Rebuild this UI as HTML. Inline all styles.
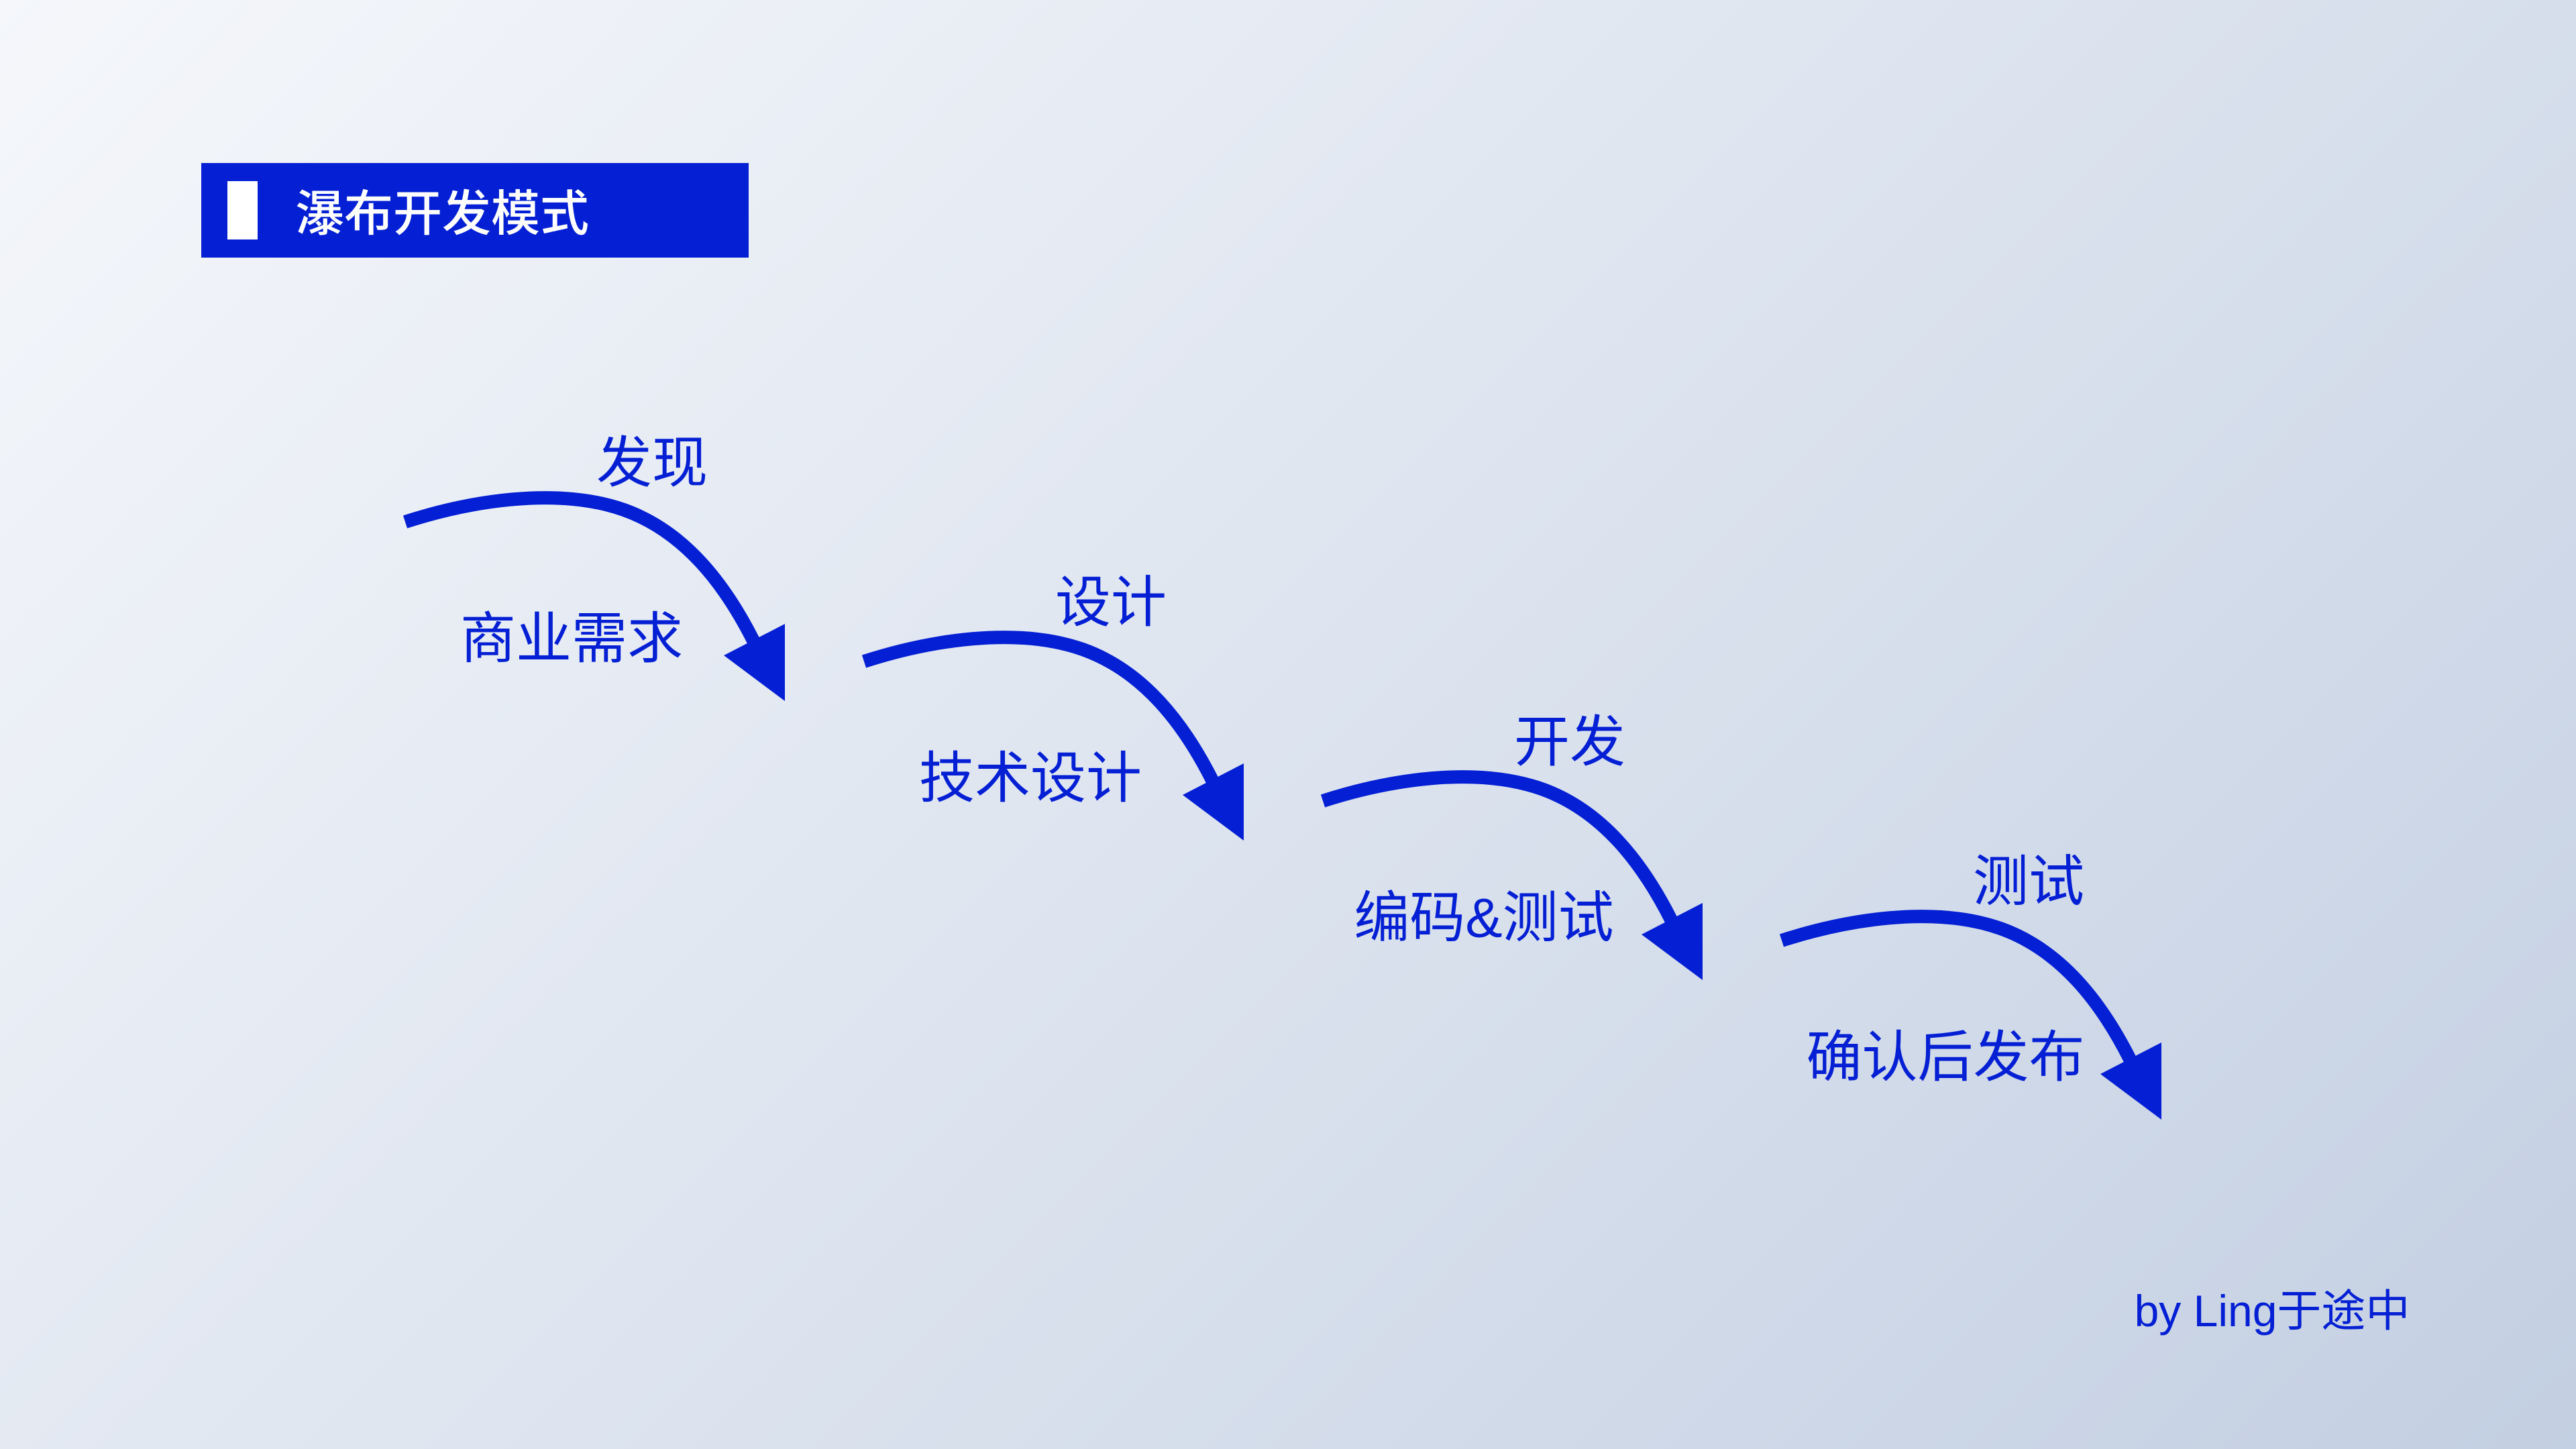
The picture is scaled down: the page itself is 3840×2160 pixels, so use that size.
<!DOCTYPE html>
<html><head><meta charset="utf-8"><style>
html,body{margin:0;padding:0;}
body{width:3840px;height:2160px;position:relative;overflow:hidden;background:linear-gradient(135deg,#f5f7fb 0%,#dde4ef 50%,#c3cfe2 100%);font-family:"Liberation Sans","Noto Sans CJK SC",sans-serif;}
.t{position:absolute;color:#0520d4;font-size:83px;line-height:1;white-space:nowrap;transform:translate(-50%,-50%);}
</style></head><body>
<div style="position:absolute;left:300px;top:243px;width:816px;height:141px;background:#0520d4"></div>
<div style="position:absolute;left:339px;top:270px;width:45px;height:87px;background:#fff"></div>
<div style="position:absolute;left:440px;top:313px;transform:translateY(-50%);color:#fff;font-size:73px;font-weight:500;line-height:1;font-family:'Noto Sans CJK SC',sans-serif;">瀑布开发模式</div>
<svg width="3840" height="2160" style="position:absolute;left:0;top:0">
<defs><g id="a">
<path d="M604 778 C700 747 830 725 930 760 C1020 792 1080 870 1123 955" fill="none" stroke="#0520d4" stroke-width="20"/>
<polygon points="1079,977 1170,930 1170,1045" fill="#0520d4"/>
</g></defs>
<use href="#a"/>
<use href="#a" transform="translate(684,208)"/>
<use href="#a" transform="translate(1368,416)"/>
<use href="#a" transform="translate(2052,624)"/>
</svg>
<div class="t" style="left:972px;top:690px">发现</div>
<div class="t" style="left:1656px;top:898px">设计</div>
<div class="t" style="left:2340px;top:1106px">开发</div>
<div class="t" style="left:3024px;top:1314px">测试</div>
<div class="t" style="left:852px;top:952px">商业需求</div>
<div class="t" style="left:1536px;top:1160px">技术设计</div>
<div class="t" style="left:2212px;top:1368px">编码&amp;测试</div>
<div class="t" style="left:2900px;top:1576px">确认后发布</div>
<div class="t" style="left:3387px;top:1954px;font-size:66px">by Ling于途中</div>
</body></html>
